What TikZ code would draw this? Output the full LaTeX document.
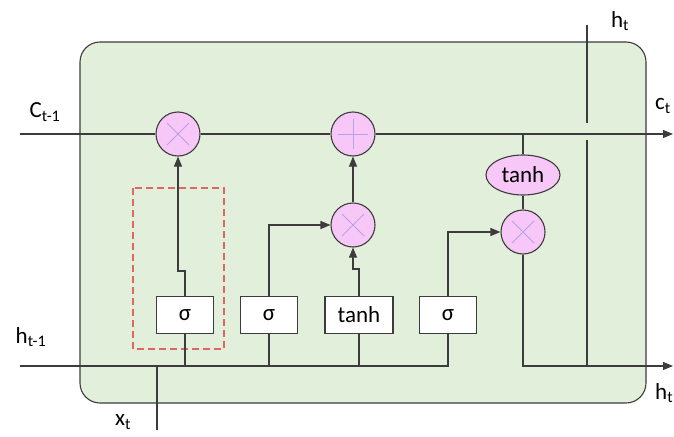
\documentclass[tikz,border=0pt]{standalone}
\usepackage{fontspec}
\setmainfont{Carlito}
\usetikzlibrary{arrows.meta,positioning,shapes.geometric}

\definecolor{cellgreen}{HTML}{E2EFDA}
\definecolor{oppink}{HTML}{F7C8F7}
\definecolor{opmark}{HTML}{B8A0E6}
\definecolor{wiregray}{HTML}{3C3C3C}
\definecolor{gatered}{HTML}{E06666}

\tikzset{
  wire/.style={draw=wiregray, line width=1.1pt},
  flow/.style={wire, -{Triangle[length=10pt,width=8pt]}},
  op/.style={circle, draw=wiregray, line width=1.1pt, fill=oppink,
    minimum size=44pt, inner sep=0pt},
  mulop/.style={op, path picture={
    \draw[opmark, line width=0.9pt]
      ([shift={(-11pt,-11pt)}]path picture bounding box.center) -- ++(22pt,22pt)
      ([shift={(-11pt,11pt)}]path picture bounding box.center) -- ++(22pt,-22pt);}},
  addop/.style={op, path picture={
    \draw[opmark, line width=0.9pt]
      ([xshift=-15pt]path picture bounding box.center) -- ++(30pt,0pt)
      ([yshift=-15pt]path picture bounding box.center) -- ++(0pt,30pt);}},
  gate/.style={rectangle, draw=wiregray, line width=1.1pt, fill=white,
    minimum width=57pt, minimum height=37pt, inner sep=0pt,
    font=\fontsize{23}{27}\selectfont},
  squash/.style={ellipse, draw=wiregray, line width=1.1pt, fill=oppink,
    minimum width=74pt, minimum height=40pt, inner sep=0pt,
    font=\fontsize{23}{27}\selectfont},
  lbl/.style={font=\fontsize{23}{27}\selectfont, inner sep=0pt}
}

\begin{document}
\begin{tikzpicture}[x=1pt, y=-1pt]
  \clip (0,0) rectangle (674,436);

  % Cell body
  \draw[wire, fill=cellgreen, rounded corners=20pt] (80,42) rectangle (646,403);

  % Forget gate highlight
  \draw[gatered, line width=1.3pt, dash pattern=on 7pt off 4pt] (133,188) rectangle (224,349);

  % Inputs and outputs
  \coordinate (cin) at (20,134);
  \coordinate (cout) at (673,134);
  \coordinate (hin) at (20,366);
  \coordinate (hout) at (673,366);
  \coordinate (xin) at (157,430);
  \coordinate (htop) at (587,25);
  \coordinate (hgapa) at (587,123);
  \coordinate (hgapb) at (587,140);

  % Pointwise operations
  \node[mulop] (mulf) at (178,134) {};
  \node[addop] (add) at (353,134) {};
  \node[mulop] (muli) at (353,225) {};
  \node[mulop] (mulo) at (523,232) {};
  \node[squash] (tanhc) at (523,175) {tanh};

  % Gates
  \node[gate] (sf) at (185,315) {σ};
  \node[gate] (si) at (269,315) {σ};
  \node[gate, minimum width=68pt] (tg) at (359,315) {tanh};
  \node[gate] (so) at (448,315) {σ};

  % Cell state line
  \draw[wire] (cin) -- (mulf) -- (add);
  \draw[flow] (add) -- (cout);
  \draw[wire] (tanhc.north) -- (tanhc.north |- add);
  \draw[wire] (tanhc) -- (mulo);

  % Hidden state and input lines
  \draw[wire] (hin) -| (so.south);
  \draw[wire] (sf.south) -- (sf.south |- hin);
  \draw[wire] (si.south) -- (si.south |- hin);
  \draw[wire] (tg.south) -- (tg.south |- hin);
  \draw[wire] (xin) -- (xin |- hin);
  \draw[flow] (mulo) |- (hout);
  \draw[wire] (htop) -- (hgapa);
  \draw[wire] (hgapb) -- (hgapb |- hout);

  % Gate outputs
  \draw[flow] (sf.north) -- ++(0,-25) -| (mulf.south);
  \draw[flow] (si.north) |- (muli.west);
  \draw[flow] (tg.north) -- ++(0,-27) -| (muli.south);
  \draw[flow] (muli) -- (add);
  \draw[flow] (so.north) |- (mulo.west);

  % Labels
  \node[lbl] (lcin) at (45,112) {C\textsubscript{t-1}};
  \node[lbl] (lhin) at (31,337) {h\textsubscript{t-1}};
  \node[lbl] (lxin) at (123,422) {x\textsubscript{t}};
  \node[lbl] (lhtop) at (620,21) {h\textsubscript{t}};
  \node[lbl, anchor=west] (lcout) at (655,106) {c\textsubscript{t}};
  \node[lbl, anchor=west] (lhout) at (655,393) {h\textsubscript{t}};
\end{tikzpicture}
\end{document}
